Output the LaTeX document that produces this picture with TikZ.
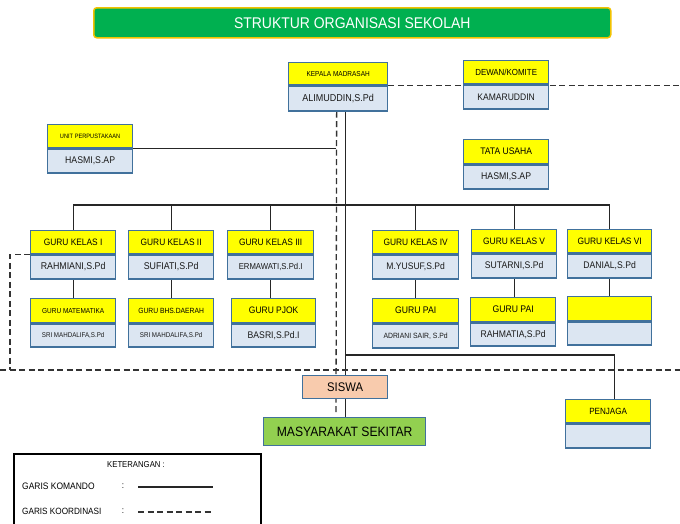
\documentclass[tikz,border=0pt]{standalone}
\usepackage{fontspec}
\setmainfont{Liberation Sans}[FakeStretch=0.9]
\usetikzlibrary{backgrounds}
\definecolor{tgreen}{HTML}{00B050}
\definecolor{tborder}{HTML}{F2C200}
\definecolor{yel}{HTML}{FFFF00}
\definecolor{lblue}{HTML}{DCE6F2}
\definecolor{boxb}{HTML}{41719C}
\definecolor{peach}{HTML}{F8CBAD}
\definecolor{lgreen}{HTML}{92D050}
\newcommand\fz[1]{\fontsize{#1}{#1}\selectfont}
% #1 name, #2 x, #3 y, #4 width, #5 header h, #6 body h, #7 header text, #8 body text
\newcommand\ob[8]{%
  \node[hdr, minimum width=#4pt, minimum height=#5pt, anchor=north west] (#1h) at (#2,#3) {#7};
  \node[bdy, minimum width=#4pt, minimum height=#6pt, anchor=north] (#1b) at (#1h.south) {#8};}
\tikzset{
  hdr/.style={draw=boxb, fill=yel, line width=1.3pt, inner sep=0pt, rectangle, text=black},
  bdy/.style={draw=boxb, fill=lblue, line width=1.3pt, inner sep=0pt, rectangle, text=black!90},
  cmd/.style={line width=1.3pt, draw=black!85},
  coord/.style={line width=1.3pt, draw=black!80, dash pattern=on 6pt off 3.5pt},
  titlebox/.style={draw=tborder, fill=tgreen, line width=1.5pt, rounded corners=3pt, inner sep=0pt, text=white},
}
\begin{document}
\begin{tikzpicture}[x=1pt,y=-1pt]
\useasboundingbox (0,0) rectangle (680,523);
% title
\node[titlebox, minimum width=517pt, minimum height=30pt, anchor=north west] (title) at (93,7) {\fz{15.5}STRUKTUR ORGANISASI SEKOLAH};
% top boxes
\ob{km}{288}{62}{99}{22}{25}{\fz{7.2}KEPALA MADRASAH}{\fz{10}ALIMUDDIN,S.Pd}
\ob{dw}{463}{60}{85}{23}{24}{\fz{8.8}DEWAN/KOMITE}{\fz{9.5}KAMARUDDIN}
\ob{up}{47}{124}{85}{23}{24}{\fz{6.3}UNIT PERPUSTAKAAN}{\fz{9.7}HASMI,S.AP}
\ob{tu}{463}{139}{85}{24}{24}{\fz{9.5}TATA USAHA}{\fz{9.7}HASMI,S.AP}
% guru row 1
\ob{ka}{30}{230}{85}{23}{24}{\fz{9.3}GURU KELAS I}{\fz{9.8}RAHMIANI,S.Pd}
\ob{kb}{128}{230}{85}{23}{24}{\fz{9.3}GURU KELAS II}{\fz{9.8}SUFIATI,S.Pd}
\ob{kc}{227}{230}{86}{23}{24}{\fz{9.3}GURU KELAS III}{\fz{8.6}ERMAWATI,S.Pd.I}
\ob{kd}{372}{230}{86}{23}{24}{\fz{9.3}GURU KELAS IV}{\fz{9.5}M.YUSUF,S.Pd}
\ob{ke}{471}{229}{85}{23}{24}{\fz{9.3}GURU KELAS V}{\fz{9.6}SUTARNI,S.Pd}
\ob{kf}{567}{229}{84}{23}{24}{\fz{9.3}GURU KELAS VI}{\fz{9.6}DANIAL,S.Pd}
% guru row 2
\ob{ma}{30}{298}{85}{24}{23}{\fz{7.2}GURU MATEMATIKA}{\fz{6.9}SRI MAHDALIFA,S.Pd}
\ob{mb}{128}{298}{85}{24}{23}{\fz{7.5}GURU BHS.DAERAH}{\fz{6.9}SRI MAHDALIFA,S.Pd}
\ob{mc}{231}{298}{84}{24}{23}{\fz{9.4}GURU PJOK}{\fz{9.6}BASRI,S.Pd.I}
\ob{md}{372}{298}{86}{24}{24}{\fz{9.6}GURU PAI}{\fz{7.6}ADRIANI SAIR, S.Pd}
\ob{me}{470}{297}{85}{24}{23}{\fz{9.6}GURU PAI}{\fz{9.6}RAHMATIA,S.Pd}
\ob{mf}{567}{296}{84}{24}{23}{}{}
% penjaga
\ob{pj}{565}{399}{85}{23}{24}{\fz{9}PENJAGA}{}
% siswa, masyarakat
\node[draw=boxb, fill=peach, line width=1.3pt, inner sep=0pt, minimum width=85pt, minimum height=23pt, anchor=north west] (siswa) at (302,375) {\fz{12.5}SISWA};
\node[draw=boxb, fill=lgreen, line width=1.3pt, inner sep=0pt, minimum width=162pt, minimum height=28pt, anchor=north west] (masy) at (263,417) {\fz{13.5}MASYARAKAT SEKITAR};
% legend
\node[draw=black, line width=1.6pt, minimum width=247pt, minimum height=80pt, anchor=north west, inner sep=0pt] (legend) at (13,453) {};
\node[anchor=center] (ket) at (136,465) {\fz{8.6}KETERANGAN :};
\node[anchor=west, inner sep=0pt] (gk) at (22,486) {\fz{9.4}GARIS KOMANDO};
\node[anchor=center, inner sep=0pt] (c1) at (123,486) {\fz{9}:};
\node[anchor=west, inner sep=0pt] (gko) at (22,511) {\fz{9.1}GARIS KOORDINASI};
\node[anchor=center, inner sep=0pt] (c2) at (123,511) {\fz{9}:};
\coordinate (l1a) at (138,487);
\coordinate (l1b) at (213,487);
\coordinate (l2a) at (138,512);
\coordinate (l2b) at (213,512);
\draw[cmd] (l1a) -- (l1b);
\draw[coord] (l2a) -- (l2b);
% connectors
\coordinate (dashR) at (680,85);
\coordinate (vdEnd) at (336,414);
\coordinate (bus) at (0,205);
\coordinate (lx) at (10,370);
\coordinate (hl) at (0,370);
\coordinate (hr) at (680,370);
\coordinate (bl) at (345,355);
\begin{pgfonlayer}{background}
\fill[white] (0,0) rectangle (680,523);
\draw[coord] (kmh.south east) -- (kmh.south east -| dashR);
\draw[coord] ([xshift=-1.5pt]kmb.south) -- (vdEnd);
\draw[cmd] ([xshift=7.5pt]kmb.south) -- ([xshift=7.5pt]kmb.south |- masy.north);
\draw[cmd] (uph.south east) -- (uph.south east -| vdEnd);
\draw[cmd] (kah.north) -- (kah.north |- bus) -- (kfh.north |- bus) -- (kfh.north);
\foreach \k in {kb,kc,kd,ke} \draw[cmd] (\k h.north) -- (\k h.north |- bus);
\foreach \a/\b in {ka/ma,kb/mb,kc/mc,kd/md,ke/me,kf/mf} \draw[cmd] (\a b.south) -- (\a b.south |- \b h.north);
\draw[coord] (kab.north west) -- (kab.north west -| lx) -- (lx);
\draw[coord] (hl) -- (hr);
\draw[cmd] ([xshift=7.5pt]kmb.south |- bl) -- ([xshift=6pt]pjh.north |- bl) -- ([xshift=6pt]pjh.north);
\end{pgfonlayer}
\end{tikzpicture}
\end{document}
